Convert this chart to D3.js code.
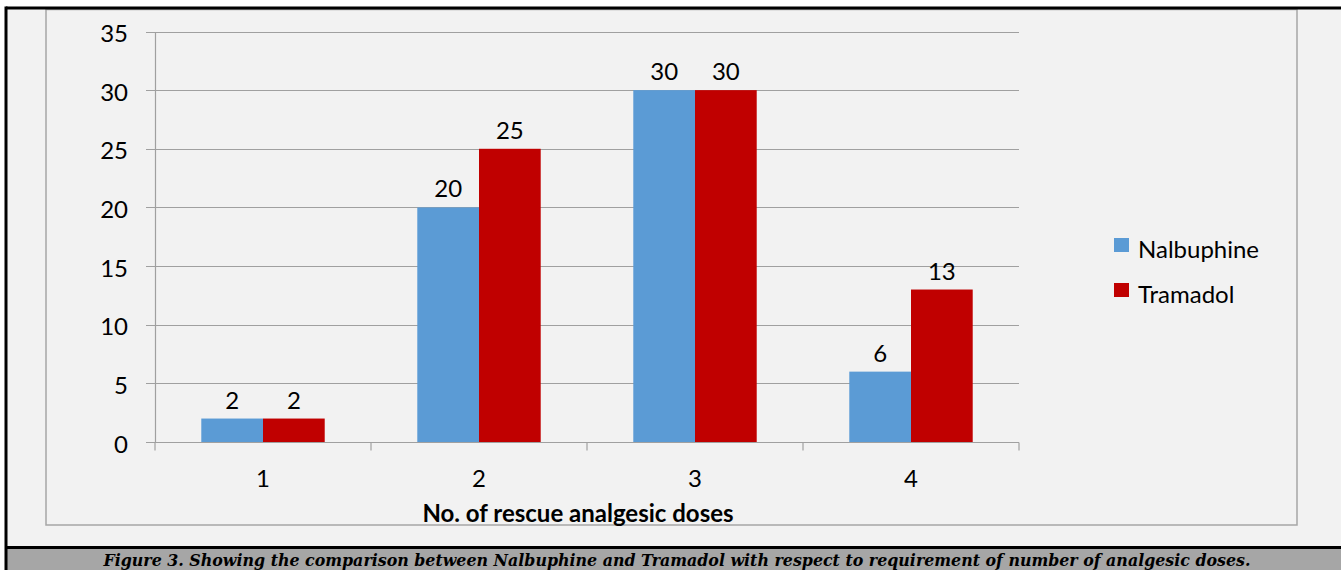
<!DOCTYPE html>
<html>
<head>
<meta charset="utf-8">
<script src="https://cdn.jsdelivr.net/npm/d3@7"></script>
<style>
  html, body { margin: 0; padding: 0; background: #ffffff; }
  svg { display: block; }
</style>
</head>
<body>
<svg id="chart" width="1341" height="570"></svg>
<script>
// Rescue analgesic doses by group
const categories = ["1", "2", "3", "4"];
const seriesNames = ["Nalbuphine", "Tramadol"];
const nalbuphine = [2, 20, 30, 6];
const tramadol = [2, 25, 30, 13];
const yTicks = [0, 5, 10, 15, 20, 25, 30, 35];
const colors = ["#5b9bd5", "#c00000"];
const xTitle = "No. of rescue analgesic doses";
const caption = "Figure 3. Showing the comparison between Nalbuphine and Tramadol with respect to requirement of number of analgesic doses.";

const svg = d3.select("#chart");
const W = 1341, H = 570;
const font = "Lato, 'Open Sans', sans-serif";
const fs = 24;

// page background and frame
svg.append("rect").attr("x", 6).attr("y", 8).attr("width", W - 6).attr("height", H - 8).attr("fill", "#f2f2f2");
svg.append("rect").attr("x", 46).attr("y", 9.5).attr("width", 1251).attr("height", 515.5)
  .attr("fill", "#f2f2f2").attr("stroke", "#a6a6a6").attr("stroke-width", 1.5);
// caption bar
svg.append("rect").attr("x", 6).attr("y", 548).attr("width", W - 6).attr("height", H - 548).attr("fill", "#a6a6a6");
svg.append("line").attr("x1", 6).attr("x2", W).attr("y1", 547.5).attr("y2", 547.5).attr("stroke", "#000").attr("stroke-width", 3);
svg.append("line").attr("x1", 6).attr("x2", W).attr("y1", 8).attr("y2", 8).attr("stroke", "#000").attr("stroke-width", 3);
svg.append("line").attr("x1", 6).attr("x2", 6).attr("y1", 6.5).attr("y2", H).attr("stroke", "#000").attr("stroke-width", 3);

const plot = { left: 155, right: 1019, top: 31.5, bottom: 442 };

const y = d3.scaleLinear().domain([0, 35]).range([plot.bottom, plot.top]);
const x0 = d3.scaleBand().domain(categories).range([plot.left, plot.right]).paddingInner(0).paddingOuter(0);
// two bars per category with a 150% gap between groups
const x1 = d3.scaleBand().domain(seriesNames).range([0, 2 * x0.bandwidth() / 3.5]).padding(0);
const barOffset = (x0.bandwidth() - 2 * x1.bandwidth()) / 2;

// gridlines
svg.append("g").selectAll("line").data(yTicks).join("line")
  .attr("x1", plot.left - 9).attr("x2", plot.right)
  .attr("y1", d => Math.round(y(d)) + 0.5).attr("y2", d => Math.round(y(d)) + 0.5)
  .attr("stroke", "#a0a0a0").attr("stroke-width", 1.2);

// y axis
const yAxis = svg.append("g").attr("transform", `translate(${plot.left},0)`)
  .call(d3.axisLeft(y).tickValues(yTicks).tickSize(0).tickPadding(27));
yAxis.select(".domain").attr("stroke", "#a0a0a0").attr("stroke-width", 1.2);
yAxis.selectAll("text").attr("font-family", font).attr("font-size", fs).attr("fill", "#000").attr("dy", "0.42em");

// x axis
const xAxis = svg.append("g").attr("transform", `translate(0,${Math.round(y(0)) + 0.5})`)
  .call(d3.axisBottom(x0).tickSize(0).tickPadding(27));
xAxis.select(".domain").remove();
xAxis.append("line").attr("x1", plot.left).attr("x2", plot.right).attr("stroke", "#a0a0a0").attr("stroke-width", 1.2);
xAxis.selectAll(".bd").data(d3.range(categories.length + 1)).join("line")
  .attr("x1", i => plot.left + i * x0.bandwidth()).attr("x2", i => plot.left + i * x0.bandwidth())
  .attr("y1", 0).attr("y2", 8).attr("stroke", "#a0a0a0").attr("stroke-width", 1.2);
xAxis.selectAll(".tick text").attr("font-family", font).attr("font-size", fs).attr("fill", "#000");

// bars
const series = [nalbuphine, tramadol];
const groups = svg.append("g").selectAll("g").data(series).join("g").attr("fill", (d, i) => colors[i]);
groups.each(function (vals, si) {
  d3.select(this).selectAll("rect").data(vals).join("rect")
    .attr("x", (v, i) => x0(categories[i]) + barOffset + x1(seriesNames[si]))
    .attr("y", v => y(v))
    .attr("width", x1.bandwidth())
    .attr("height", v => y(0) - y(v));
  d3.select(this).selectAll("text").data(vals).join("text")
    .attr("x", (v, i) => x0(categories[i]) + barOffset + x1(seriesNames[si]) + x1.bandwidth() / 2)
    .attr("y", v => y(v) - 10)
    .attr("text-anchor", "middle").attr("font-family", font).attr("font-size", fs).attr("fill", "#000")
    .text(v => v);
});

// axis title
svg.append("text").attr("x", 578).attr("y", 522)
  .attr("text-anchor", "middle").attr("font-family", font).attr("font-weight", "bold").attr("font-size", fs)
  .attr("fill", "#000").text(xTitle);

// legend
const legend = svg.append("g").attr("transform", "translate(1114,238)");
seriesNames.forEach((name, i) => {
  const g = legend.append("g").attr("transform", `translate(0,${i * 45})`);
  g.append("rect").attr("width", 15).attr("height", 14).attr("fill", colors[i]);
  g.append("text").attr("x", 24).attr("y", 20).attr("font-family", font).attr("font-size", fs).attr("fill", "#000").text(name);
});

// caption
svg.append("text").attr("x", 677).attr("y", 566).attr("text-anchor", "middle")
  .attr("font-family", "'DejaVu Serif', serif").attr("font-weight", "bold").attr("font-style", "italic")
  .attr("font-size", 17).attr("fill", "#000")
  .attr("textLength", 1147).attr("lengthAdjust", "spacingAndGlyphs")
  .text(caption);
</script>
</body>
</html>
